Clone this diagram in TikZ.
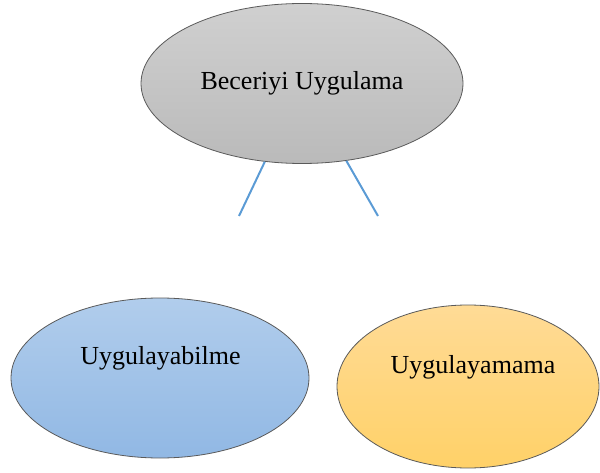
\documentclass[tikz,border=0pt]{standalone}
\usepackage{fontspec}
\setmainfont{Liberation Serif}
\usetikzlibrary{shapes.geometric}
\definecolor{linkblue}{HTML}{5B9BD5}
\definecolor{rimgray}{HTML}{5A5A5A}
\tikzset{
  oval/.style={ellipse, draw=rimgray, line width=0.8pt, inner sep=0pt},
  ovaltext/.style={font=\fontsize{26}{30}\selectfont, inner sep=0pt, text=black},
  link/.style={draw=linkblue, line width=2pt}
}
\begin{document}
\begin{tikzpicture}[x=1pt,y=-1pt]
\useasboundingbox (0,0) rectangle (600,473);
\node[oval, minimum width=322pt, minimum height=160pt, top color={rgb,255:red,208;green,208;blue,208}, bottom color={rgb,255:red,186;green,186;blue,186}] (top) at (302,83.5) {};
\node[ovaltext] (toptext) at (302,83) {Beceriyi Uygulama};
\node[oval, minimum width=298pt, minimum height=160pt, top color={rgb,255:red,177;green,205;blue,236}, bottom color={rgb,255:red,145;green,184;blue,228}] (left) at (160,378) {};
\node[ovaltext] (lefttext) at (160.5,358) {Uygulayabilme};
\node[oval, minimum width=262pt, minimum height=163pt, top color={rgb,255:red,255;green,219;blue,150}, bottom color={rgb,255:red,255;green,209;blue,104}] (right) at (468,386.5) {};
\node[ovaltext] (righttext) at (473,367) {Uygulayamama};
\coordinate (lend) at (239,216);
\coordinate (rend) at (378,216);
\draw[link] (top) -- (lend);
\draw[link] (top) -- (rend);
\end{tikzpicture}
\end{document}
